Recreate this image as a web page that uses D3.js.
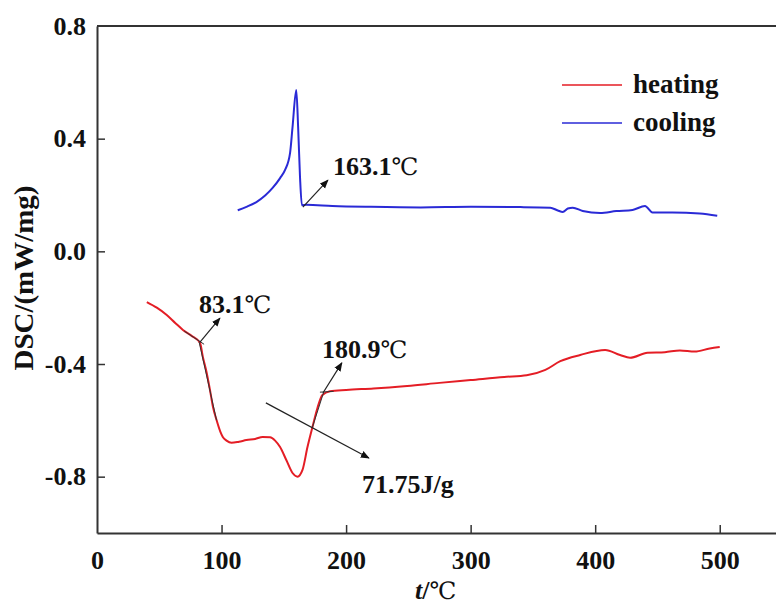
<!DOCTYPE html>
<html>
<head>
<meta charset="utf-8">
<script src="https://cdn.jsdelivr.net/npm/d3@7"></script>
<style>
  body { margin: 0; background: #fff; }
  svg { display: block; }
  text { font-family: "Liberation Serif", "Times New Roman", serif; font-weight: bold; fill: #111; }
  .deg { font-family: "DejaVu Serif", serif; font-weight: normal; }
</style>
</head>
<body>
<svg id="chart" width="776" height="608"></svg>
<script>
// heating curve, t in degC, DSC in mW/mg
var heatT = [40, 48, 56, 63, 69, 76, 82.7, 85, 88, 90.7, 93, 96, 99, 101, 104, 108, 114, 120, 127, 133, 139, 143, 147, 152, 157, 161, 165, 169, 173, 177, 181, 187, 200, 222, 249, 275, 300, 327, 345, 360, 372, 388, 408, 420, 428, 442, 456, 468, 480, 492, 500];
var heatV = [-0.18, -0.20, -0.226, -0.255, -0.279, -0.30, -0.325, -0.375, -0.43, -0.492, -0.55, -0.599, -0.64, -0.659, -0.672, -0.68, -0.676, -0.67, -0.666, -0.659, -0.66, -0.672, -0.695, -0.741, -0.787, -0.80, -0.776, -0.695, -0.624, -0.556, -0.51, -0.497, -0.492, -0.487, -0.478, -0.467, -0.457, -0.446, -0.44, -0.421, -0.39, -0.368, -0.35, -0.368, -0.378, -0.36, -0.358, -0.352, -0.356, -0.345, -0.34];

// cooling curve
var coolT = [113, 120, 128, 135, 141, 147, 151, 155, 157, 160, 161.5, 163, 164.5, 168, 189, 220, 260, 300, 340, 364, 370, 374, 378, 382, 390, 404, 417, 430, 440, 446, 462, 484, 498];
var coolV = [0.146, 0.158, 0.175, 0.198, 0.225, 0.26, 0.289, 0.349, 0.441, 0.573, 0.44, 0.264, 0.164, 0.165, 0.161, 0.158, 0.156, 0.158, 0.157, 0.155, 0.145, 0.14, 0.152, 0.155, 0.143, 0.136, 0.143, 0.147, 0.161, 0.138, 0.138, 0.134, 0.126];

var xTicks = [0, 100, 200, 300, 400, 500];
var yTicks = [0.8, 0.4, 0.0, -0.4, -0.8];

var seriesNames = ["heating", "cooling"];
var seriesColors = ["#e41d25", "#2a2ad6"];

// annotations: arrow from (t0,v0) to (t1,v1), label at (tx,vx)
var annLabel = ["83.1", "180.9", "71.75J/g", "163.1"];
var annDeg = [true, true, false, true];
var annFrom = [[82.7, -0.322], [181.4, -0.503], [135.6, -0.538], [165.3, 0.157]];
var annTo = [[98.7, -0.237], [196.6, -0.396], [218.3, -0.734], [185.4, 0.253]];
var annText = [[81.9, -0.219], [180.6, -0.379], [212.7, -0.858], [189.4, 0.271]];

// onset tangent lines
var tangents = [[[82, -0.322], [96, -0.60]], [[70, -0.283], [86, -0.33]], [[173, -0.624], [182, -0.50]], [[179, -0.50], [190, -0.497]]];

var svg = d3.select("#chart");

var x = d3.scaleLinear().domain([0, 550]).range([97, 782]);
var y = d3.scaleLinear().domain([-1.0, 0.8]).range([533, 26]);

svg.append("defs").append("marker")
  .attr("id", "arr")
  .attr("viewBox", "0 0 10 10")
  .attr("refX", 9).attr("refY", 5)
  .attr("markerWidth", 9).attr("markerHeight", 9)
  .attr("markerUnits", "userSpaceOnUse")
  .attr("orient", "auto")
  .append("path")
  .attr("d", "M0,1 L10,5 L0,9 Z")
  .attr("fill", "#111");

// frame
svg.append("line").attr("x1", x(0)).attr("x2", 776).attr("y1", y(0.8)).attr("y2", y(0.8))
  .attr("stroke", "#333").attr("stroke-width", 2);

var xAxis = svg.append("g").attr("transform", "translate(0," + y(-1.0) + ")")
  .call(d3.axisBottom(x).tickValues(xTicks).tickSizeInner(-8).tickSizeOuter(0).tickPadding(18));
var yAxis = svg.append("g").attr("transform", "translate(" + x(0) + ",0)")
  .call(d3.axisLeft(y).tickValues(yTicks).tickSizeInner(-8).tickSizeOuter(0).tickPadding(11).tickFormat(d3.format(".1f")));

[xAxis, yAxis].forEach(function(a) {
  a.select(".domain").attr("stroke", "#333").attr("stroke-width", 2);
  a.selectAll(".tick line").attr("stroke", "#333").attr("stroke-width", 1.5);
  a.selectAll(".tick text").attr("font-size", 26).attr("font-family", null).attr("fill", "#111");
});
xAxis.selectAll(".tick").filter(function(d) { return d === 0; }).select("line").remove();
yAxis.selectAll(".tick").filter(function(d) { return d === 0.8; }).select("line").remove();
yAxis.selectAll(".tick text").text(function(d) { return d3.format(".1f")(d).replace("−", "-"); });

// curves
var line = d3.line().x(function(d) { return x(d[0]); }).y(function(d) { return y(d[1]); }).curve(d3.curveMonotoneX);
var heat = heatT.map(function(t, i) { return [t, heatV[i]]; });
var cool = coolT.map(function(t, i) { return [t, coolV[i]]; });

svg.append("path").datum(heat).attr("d", line).attr("fill", "none")
  .attr("stroke", seriesColors[0]).attr("stroke-width", 2);
svg.append("path").datum(cool).attr("d", line).attr("fill", "none")
  .attr("stroke", seriesColors[1]).attr("stroke-width", 2);

// tangents
svg.selectAll(".tan").data(tangents).enter().append("line")
  .attr("x1", function(d) { return x(d[0][0]); }).attr("y1", function(d) { return y(d[0][1]); })
  .attr("x2", function(d) { return x(d[1][0]); }).attr("y2", function(d) { return y(d[1][1]); })
  .attr("stroke", "#333").attr("stroke-width", 1);

// annotation arrows
svg.selectAll(".ann").data(annFrom).enter().append("line")
  .attr("x1", function(d) { return x(d[0]); }).attr("y1", function(d) { return y(d[1]); })
  .attr("x2", function(d, i) { return x(annTo[i][0]); }).attr("y2", function(d, i) { return y(annTo[i][1]); })
  .attr("stroke", "#222").attr("stroke-width", 1.2).attr("marker-end", "url(#arr)");

var lab = svg.selectAll(".lab").data(annText).enter().append("text")
  .attr("x", function(d) { return x(d[0]); }).attr("y", function(d) { return y(d[1]); })
  .attr("font-size", 26);
lab.append("tspan").text(function(d, i) { return annLabel[i]; });
lab.filter(function(d, i) { return annDeg[i]; }).append("tspan").attr("class", "deg").attr("font-size", 24).text("\u2103");

// legend
var leg = svg.selectAll(".leg").data(seriesNames).enter().append("g")
  .attr("transform", function(d, i) { return "translate(562," + (85 + i * 38) + ")"; });
leg.append("line").attr("x1", 0).attr("x2", 60).attr("y1", 0).attr("y2", 0)
  .attr("stroke", function(d, i) { return seriesColors[i]; }).attr("stroke-width", 1.5);
leg.append("text").attr("x", 71).attr("y", 8).attr("font-size", 27).text(function(d) { return d; });

// axis titles
var yt = svg.append("text").attr("transform", "translate(33,278) rotate(-90)")
  .attr("text-anchor", "middle").attr("font-size", 27)
  .attr("textLength", 185).attr("lengthAdjust", "spacingAndGlyphs")
  .text("DSC/(mW/mg)");

var xt = svg.append("text").attr("x", 415).attr("y", 599).attr("font-size", 26);
xt.append("tspan").attr("font-style", "italic").text("t");
xt.append("tspan").text("/");
xt.append("tspan").attr("class", "deg").attr("font-size", 24).text("\u2103");
</script>
</body>
</html>
